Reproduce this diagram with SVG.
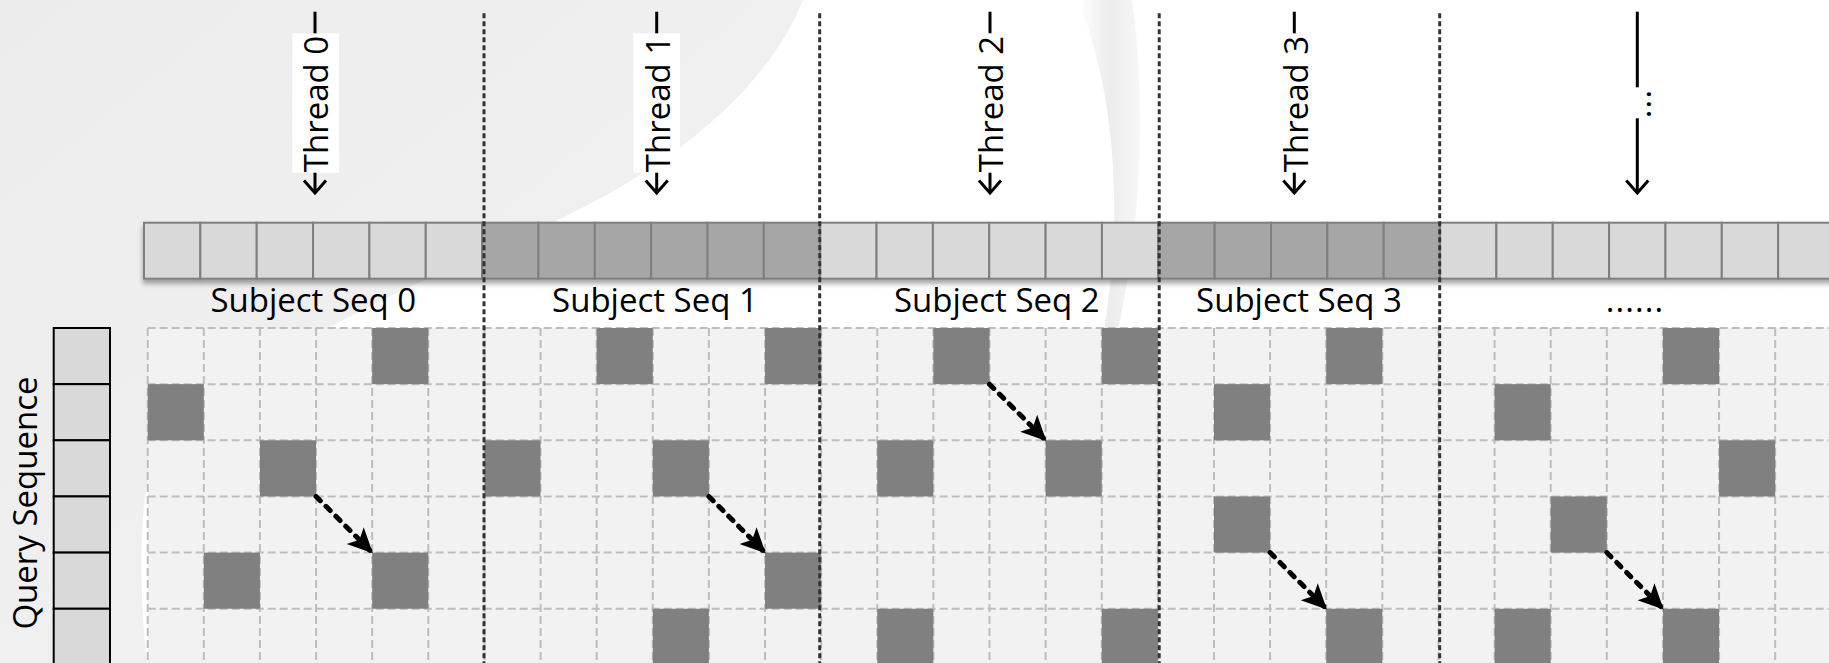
<svg xmlns="http://www.w3.org/2000/svg" width="1829" height="663" viewBox="0 0 1829 663">
<defs>
<style>
text{font-family:"Open Sans","Noto Sans","Liberation Sans",sans-serif;fill:#000;font-size:33px}
.mid{text-anchor:middle}
.bl{fill:#d9d9d9;stroke:#7f7f7f;stroke-width:2}
.bd{fill:#a6a6a6;stroke:#7f7f7f;stroke-width:2}
.q{fill:#d9d9d9;stroke:#000;stroke-width:2}
.gl{stroke:#bdbdbd;stroke-width:2;stroke-dasharray:8 4;fill:none}
.hit{fill:#808080}
.dv{stroke:#333;stroke-width:3;stroke-dasharray:5 3;fill:none}
.thr{stroke:#000;stroke-width:3;fill:none}
.box{fill:#fff}
.dg{stroke:#000;stroke-width:5;stroke-dasharray:6 8;stroke-linecap:round;fill:none}
</style>
<marker id="open" markerUnits="userSpaceOnUse" viewBox="-16 -14 20 28" markerWidth="20" markerHeight="28" refX="0" refY="0" orient="auto">
<path d="M-12.6,-11 L0,0 L-12.6,11" fill="none" stroke="#000" stroke-width="3"/>
</marker>
<marker id="solid" markerUnits="userSpaceOnUse" viewBox="-26 -14 28 28" markerWidth="28" markerHeight="28" refX="0" refY="0" orient="auto">
<path d="M1,0 L-24,-12 L-18,0 L-24,12 Z" fill="#000"/>
</marker>
<filter id="sh" x="-5%" y="-30%" width="110%" height="180%">
<feDropShadow dx="0" dy="4" stdDeviation="2.5" flood-color="#000" flood-opacity="0.35"/>
</filter>
<linearGradient id="gbg" x1="0" y1="0" x2="1" y2="1">
<stop offset="0" stop-color="#ececec"/>
<stop offset="1" stop-color="#f3f3f3"/>
</linearGradient>
<linearGradient id="gband" x1="0" y1="0" x2="1" y2="0">
<stop offset="0" stop-color="#ffffff"/>
<stop offset="0.5" stop-color="#ececec"/>
<stop offset="1" stop-color="#f7f7f7"/>
</linearGradient>
</defs>

<g id="background">
<rect x="0" y="0" width="1829" height="663" fill="#fff"/>
<path d="M0,0 L803,0 C765,95 660,175 540,228 C380,298 200,380 150,470 C138,520 140,600 147,663 L0,663 Z" fill="url(#gbg)"/>
<path d="M1078,0 L1132,0 C1146,100 1142,220 1118,330 L1104,330 C1122,220 1118,100 1078,0 Z" fill="url(#gband)"/>
</g>

<g id="grid">
<rect x="147.7" y="328" width="1682" height="336" fill="#f2f2f2"/>
<path class="gl" d="M147.7,328V663M203.82,328V663M259.94,328V663M316.06,328V663M372.18,328V663M428.3,328V663M484.42,328V663M540.54,328V663M596.66,328V663M652.78,328V663M708.9,328V663M765.02,328V663M821.14,328V663M877.26,328V663M933.38,328V663M989.5,328V663M1045.62,328V663M1101.74,328V663M1157.86,328V663M1213.98,328V663M1270.1,328V663M1326.22,328V663M1382.34,328V663M1438.46,328V663M1494.58,328V663M1550.7,328V663M1606.82,328V663M1662.94,328V663M1719.06,328V663M1775.18,328V663"/>
<path class="gl" d="M147.7,328H1829M147.7,384.15H1829M147.7,440.3H1829M147.7,496.45H1829M147.7,552.6H1829M147.7,608.75H1829"/>
</g>

<g id="hits">
<rect class="hit" x="372.18" y="328" width="56.12" height="56.15"/>
<rect class="hit" x="147.7" y="384.15" width="56.12" height="56.15"/>
<rect class="hit" x="259.94" y="440.3" width="56.12" height="56.15"/>
<rect class="hit" x="203.82" y="552.6" width="56.12" height="56.15"/>
<rect class="hit" x="372.18" y="552.6" width="56.12" height="56.15"/>
<rect class="hit" x="596.66" y="328" width="56.12" height="56.15"/>
<rect class="hit" x="765.02" y="328" width="56.12" height="56.15"/>
<rect class="hit" x="484.42" y="440.3" width="56.12" height="56.15"/>
<rect class="hit" x="652.78" y="440.3" width="56.12" height="56.15"/>
<rect class="hit" x="765.02" y="552.6" width="56.12" height="56.15"/>
<rect class="hit" x="652.78" y="608.75" width="56.12" height="56.15"/>
<rect class="hit" x="933.38" y="328" width="56.12" height="56.15"/>
<rect class="hit" x="1101.74" y="328" width="56.12" height="56.15"/>
<rect class="hit" x="877.26" y="440.3" width="56.12" height="56.15"/>
<rect class="hit" x="1045.62" y="440.3" width="56.12" height="56.15"/>
<rect class="hit" x="877.26" y="608.75" width="56.12" height="56.15"/>
<rect class="hit" x="1101.74" y="608.75" width="56.12" height="56.15"/>
<rect class="hit" x="1326.22" y="328" width="56.12" height="56.15"/>
<rect class="hit" x="1213.98" y="384.15" width="56.12" height="56.15"/>
<rect class="hit" x="1213.98" y="496.45" width="56.12" height="56.15"/>
<rect class="hit" x="1326.22" y="608.75" width="56.12" height="56.15"/>
<rect class="hit" x="1662.94" y="328" width="56.12" height="56.15"/>
<rect class="hit" x="1494.58" y="384.15" width="56.12" height="56.15"/>
<rect class="hit" x="1719.06" y="440.3" width="56.12" height="56.15"/>
<rect class="hit" x="1550.7" y="496.45" width="56.12" height="56.15"/>
<rect class="hit" x="1494.58" y="608.75" width="56.12" height="56.15"/>
<rect class="hit" x="1662.94" y="608.75" width="56.12" height="56.15"/>
</g>

<g id="subject-bar" filter="url(#sh)">
<rect class="bl" x="144" y="222.7" width="56.35" height="56"/>
<rect class="bl" x="200.35" y="222.7" width="56.35" height="56"/>
<rect class="bl" x="256.7" y="222.7" width="56.35" height="56"/>
<rect class="bl" x="313.05" y="222.7" width="56.35" height="56"/>
<rect class="bl" x="369.4" y="222.7" width="56.35" height="56"/>
<rect class="bl" x="425.75" y="222.7" width="56.35" height="56"/>
<rect class="bd" x="482.1" y="222.7" width="56.35" height="56"/>
<rect class="bd" x="538.45" y="222.7" width="56.35" height="56"/>
<rect class="bd" x="594.8" y="222.7" width="56.35" height="56"/>
<rect class="bd" x="651.15" y="222.7" width="56.35" height="56"/>
<rect class="bd" x="707.5" y="222.7" width="56.35" height="56"/>
<rect class="bd" x="763.85" y="222.7" width="56.35" height="56"/>
<rect class="bl" x="820.2" y="222.7" width="56.35" height="56"/>
<rect class="bl" x="876.55" y="222.7" width="56.35" height="56"/>
<rect class="bl" x="932.9" y="222.7" width="56.35" height="56"/>
<rect class="bl" x="989.25" y="222.7" width="56.35" height="56"/>
<rect class="bl" x="1045.6" y="222.7" width="56.35" height="56"/>
<rect class="bl" x="1101.95" y="222.7" width="56.35" height="56"/>
<rect class="bd" x="1158.3" y="222.7" width="56.35" height="56"/>
<rect class="bd" x="1214.65" y="222.7" width="56.35" height="56"/>
<rect class="bd" x="1271" y="222.7" width="56.35" height="56"/>
<rect class="bd" x="1327.35" y="222.7" width="56.35" height="56"/>
<rect class="bd" x="1383.7" y="222.7" width="56.35" height="56"/>
<rect class="bl" x="1440.05" y="222.7" width="56.35" height="56"/>
<rect class="bl" x="1496.4" y="222.7" width="56.35" height="56"/>
<rect class="bl" x="1552.75" y="222.7" width="56.35" height="56"/>
<rect class="bl" x="1609.1" y="222.7" width="56.35" height="56"/>
<rect class="bl" x="1665.45" y="222.7" width="56.35" height="56"/>
<rect class="bl" x="1721.8" y="222.7" width="56.35" height="56"/>
<rect class="bl" x="1778.15" y="222.7" width="56.35" height="56"/>
</g>

<g id="query-bar">
<rect class="q" x="53.7" y="328" width="56.3" height="56.15"/>
<rect class="q" x="53.7" y="384.15" width="56.3" height="56.15"/>
<rect class="q" x="53.7" y="440.3" width="56.3" height="56.15"/>
<rect class="q" x="53.7" y="496.45" width="56.3" height="56.15"/>
<rect class="q" x="53.7" y="552.6" width="56.3" height="56.15"/>
<rect class="q" x="53.7" y="608.75" width="56.3" height="56.15"/>
<text transform="translate(36.5,503) rotate(-90)" class="mid">Query Sequence</text>
</g>

<g id="dividers">
<path class="dv" d="M484,13.3V663M819.7,13.3V663M1159.2,13.3V663M1439.7,13.3V663"/>
</g>

<g id="subject-labels">
<text id="label-seq0" x="313.3" y="311.7" class="mid">Subject Seq 0</text>
<text id="label-seq1" x="655" y="311.7" class="mid">Subject Seq 1</text>
<text id="label-seq2" x="996.8" y="311.7" class="mid">Subject Seq 2</text>
<text id="label-seq3" x="1299" y="311.7" class="mid">Subject Seq 3</text>
<text id="label-seq4" x="1635" y="311.7" class="mid" letter-spacing="1.1">......</text>
</g>

<g id="thread0">
<line class="thr" x1="315" y1="11.7" x2="315" y2="193" marker-end="url(#open)"/>
<rect class="box" x="292.3" y="33.3" width="46.7" height="139.4"/>
<text transform="translate(328.3,104) rotate(-90)" class="mid">Thread 0</text>
</g>
<g id="thread1">
<line class="thr" x1="656.7" y1="11.7" x2="656.7" y2="193" marker-end="url(#open)"/>
<rect class="box" x="633.3" y="33.3" width="46.7" height="139.4"/>
<text transform="translate(670,104) rotate(-90)" class="mid">Thread 1</text>
</g>
<g id="thread2">
<line class="thr" x1="990" y1="11.7" x2="990" y2="193" marker-end="url(#open)"/>
<rect class="box" x="966.7" y="33.3" width="46.7" height="139.4"/>
<text transform="translate(1003.3,104) rotate(-90)" class="mid">Thread 2</text>
</g>
<g id="thread3">
<line class="thr" x1="1294.3" y1="11.7" x2="1294.3" y2="193" marker-end="url(#open)"/>
<rect class="box" x="1271" y="33.3" width="46.7" height="139.4"/>
<text transform="translate(1307.6,104) rotate(-90)" class="mid">Thread 3</text>
</g>
<g id="thread4">
<line class="thr" x1="1637.3" y1="11.7" x2="1637.3" y2="193" marker-end="url(#open)"/>
<rect class="box" x="1614" y="87.3" width="46.7" height="31"/>
<text transform="translate(1650.6,103.5) rotate(-90)" class="mid" letter-spacing="1.1">...</text>
</g>

<g id="connectors">
<line class="dg" x1="316.06" y1="496.45" x2="372.18" y2="552.6" marker-end="url(#solid)"/>
<line class="dg" x1="708.9" y1="496.45" x2="765.02" y2="552.6" marker-end="url(#solid)"/>
<line class="dg" x1="989.5" y1="384.15" x2="1045.62" y2="440.3" marker-end="url(#solid)"/>
<line class="dg" x1="1270.1" y1="552.6" x2="1326.22" y2="608.75" marker-end="url(#solid)"/>
<line class="dg" x1="1606.82" y1="552.6" x2="1662.94" y2="608.75" marker-end="url(#solid)"/>
</g>
</svg>
